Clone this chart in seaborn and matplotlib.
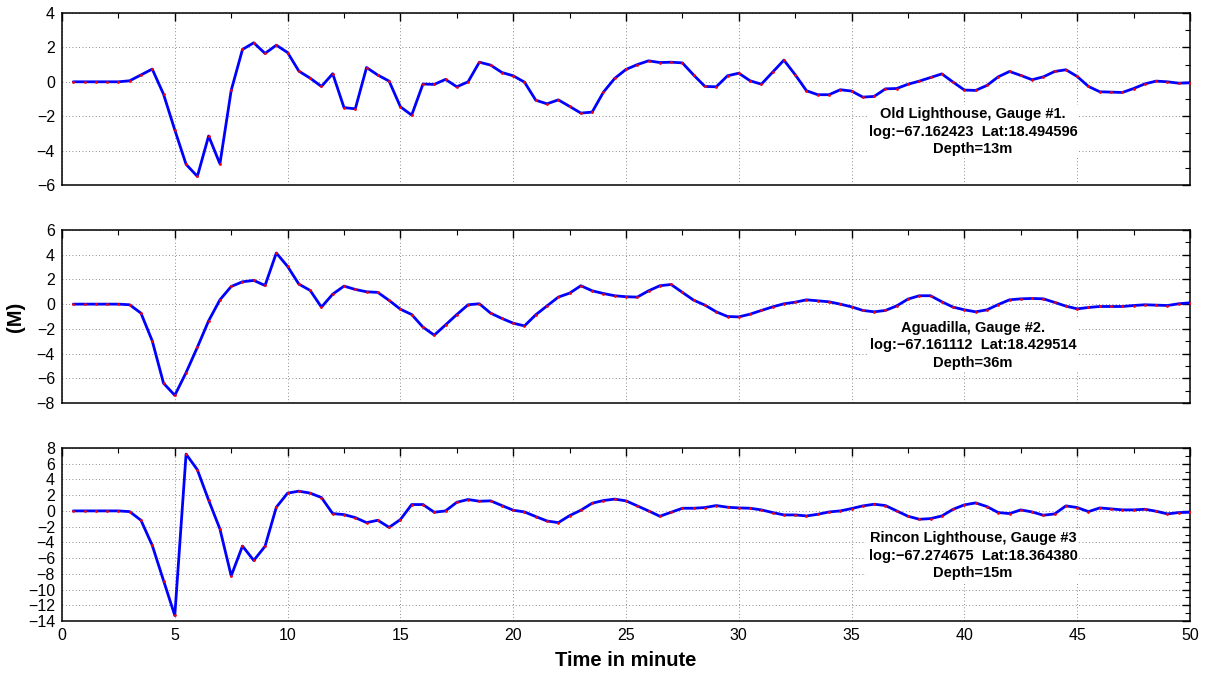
import numpy as np
import pandas as pd
import matplotlib
matplotlib.use("Agg")
import matplotlib.pyplot as plt
from matplotlib.ticker import MultipleLocator
import seaborn as sns

# Sample times (minutes), one record every 30 s
time_min = np.arange(1, 101) * 0.5

# Water surface elevation (m) at each tide gauge
gauge1 = [0, 0, 0, 0, 0,
          0.06, 0.4, 0.74, -0.72, -2.8, -4.8, -5.5, -3.15, -4.77, -0.5, 1.88, 2.27, 1.65, 2.13, 1.7,
          0.62, 0.21, -0.27, 0.47, -1.5, -1.57, 0.83, 0.39, 0.04, -1.45,
          -1.94, -0.13, -0.15, 0.14, -0.29, 0.0, 1.14, 0.97, 0.54, 0.35,
          -0.02, -1.07, -1.28, -1.05, -1.43, -1.82, -1.76, -0.6, 0.2, 0.72,
          1.0, 1.22, 1.12, 1.14, 1.1, 0.39, -0.27, -0.29, 0.35, 0.5,
          0.06, -0.14, 0.56, 1.26, 0.41, -0.52, -0.75, -0.75, -0.46, -0.54,
          -0.89, -0.85, -0.41, -0.39, -0.14, 0.04, 0.25, 0.46, -0.02, -0.48,
          -0.5, -0.21, 0.29, 0.6, 0.37, 0.12, 0.29, 0.6, 0.7, 0.31,
          -0.27, -0.58, -0.6, -0.62, -0.39, -0.12, 0.04, 0.0, -0.08, -0.06]

gauge2 = [0, 0, 0, 0, 0,
          -0.05, -0.73, -2.97, -6.4, -7.38, -5.54, -3.49, -1.35, 0.35, 1.43, 1.81, 1.92, 1.51, 4.14, 3.05,
          1.62, 1.11, -0.24, 0.81, 1.46, 1.19, 1.0, 0.95, 0.3, -0.41,
          -0.84, -1.86, -2.51, -1.68, -0.84, -0.05, 0.03, -0.73, -1.16, -1.54,
          -1.76, -0.86, -0.14, 0.57, 0.89, 1.49, 1.08, 0.86, 0.68, 0.6,
          0.57, 1.08, 1.49, 1.59, 0.95, 0.32, -0.08, -0.62, -1.0, -1.03,
          -0.81, -0.51, -0.22, 0.03, 0.16, 0.35, 0.27, 0.19, 0.0, -0.22,
          -0.51, -0.62, -0.51, -0.14, 0.41, 0.68, 0.68, 0.19, -0.24, -0.46,
          -0.62, -0.46, -0.03, 0.35, 0.43, 0.46, 0.43, 0.14, -0.16, -0.38,
          -0.27, -0.19, -0.19, -0.19, -0.11, -0.05, -0.08, -0.11, 0.03, 0.11]

gauge3 = [0, 0, 0, 0, 0,
          -0.09, -1.19, -4.38, -8.85, -13.3, 7.23, 5.23, 1.36, -2.3, -8.26, -4.47, -6.3, -4.5, 0.47, 2.26,
          2.51, 2.26, 1.7, -0.34, -0.47, -0.85, -1.49, -1.19, -2.09, -1.1,
          0.81, 0.81, -0.17, 0.0, 1.1, 1.45, 1.23, 1.28, 0.68, 0.09,
          -0.13, -0.72, -1.28, -1.49, -0.6, 0.09, 0.98, 1.32, 1.5, 1.28,
          0.64, 0.0, -0.68, -0.17, 0.34, 0.34, 0.43, 0.68, 0.47, 0.38,
          0.34, 0.13, -0.21, -0.51, -0.51, -0.64, -0.43, -0.13, 0.0, 0.3,
          0.64, 0.85, 0.68, 0.0, -0.68, -1.06, -0.98, -0.64, 0.21, 0.77,
          1.02, 0.55, -0.21, -0.34, 0.13, -0.13, -0.55, -0.38, 0.64, 0.43,
          -0.09, 0.38, 0.26, 0.13, 0.13, 0.21, -0.04, -0.38, -0.21, -0.17]

gauge_labels = [
    "Old Lighthouse, Gauge #1.\nlog:\u221267.162423  Lat:18.494596\nDepth=13m",
    "Aguadilla, Gauge #2.\nlog:\u221267.161112  Lat:18.429514\nDepth=36m",
    "Rincon Lighthouse, Gauge #3\nlog:\u221267.274675  Lat:18.364380\nDepth=15m",
]
y_limits = [(-6, 4), (-8, 6), (-14, 8)]
label_y = [-2.9, -3.33, -5.7]
x_ticks = list(range(0, 51, 5))

sns.set_theme(style="white")
plt.rcParams["font.family"] = ["Liberation Sans", "DejaVu Sans"]
plt.rcParams["axes.unicode_minus"] = True
plt.rcParams["text.color"] = "black"
plt.rcParams["axes.labelcolor"] = "black"

fig = plt.figure(figsize=(12.1, 6.74), dpi=100)
left, width = 62 / 1210, 1128 / 1210
panel_px = [(13, 185), (230, 403), (448, 621)]
axes = []
for top, bottom in panel_px:
    ax = fig.add_axes([left, 1 - bottom / 674, width, (bottom - top) / 674])
    axes.append(ax)

for ax, series, lim, text, ty in zip(axes, [gauge1, gauge2, gauge3], y_limits, gauge_labels, label_y):
    df = pd.DataFrame({"time": time_min, "eta": series})
    sns.lineplot(data=df, x="time", y="eta", ax=ax, color="#0000ff", lw=2.0, zorder=2)
    sns.scatterplot(data=df, x="time", y="eta", ax=ax, color="#ff0000", s=4,
                    linewidth=0, zorder=3)
    ax.set_xlim(0, 50)
    ax.set_ylim(*lim)
    ax.set_xticks(x_ticks)
    ax.xaxis.set_minor_locator(MultipleLocator(2.5))
    ax.yaxis.set_major_locator(MultipleLocator(2))
    ax.yaxis.set_minor_locator(MultipleLocator(1))
    ax.grid(True, which="major", linestyle=(0, (1, 3)), color="#666666", linewidth=0.6)
    ax.tick_params(which="both", direction="in", top=True, right=True,
                   labelsize=11.5, colors="black", pad=5)
    ax.tick_params(which="major", length=6, width=1.0)
    ax.tick_params(which="minor", length=3.5, width=0.8)
    for sp in ax.spines.values():
        sp.set_visible(True)
        sp.set_color("black")
        sp.set_linewidth(1.1)
    ax.set_xlabel("")
    ax.set_ylabel("")
    ax.text(40.38, ty, text, ha="center", va="center", multialignment="center",
            fontsize=10.5, fontweight="bold", color="black", linespacing=1.3, zorder=4,
            bbox=dict(facecolor="white", edgecolor="none", pad=1.5))

for ax in axes[:2]:
    ax.tick_params(labelbottom=False)

axes[2].set_xlabel("Time in minute", fontsize=14.5, fontweight="bold", color="black", labelpad=6)
fig.text(15 / 1210, 1 - 316.5 / 674, "(M)", rotation=90, ha="center", va="center",
         fontsize=14.5, fontweight="bold", color="black")

fig.savefig("out.png", dpi=100, facecolor="white")
